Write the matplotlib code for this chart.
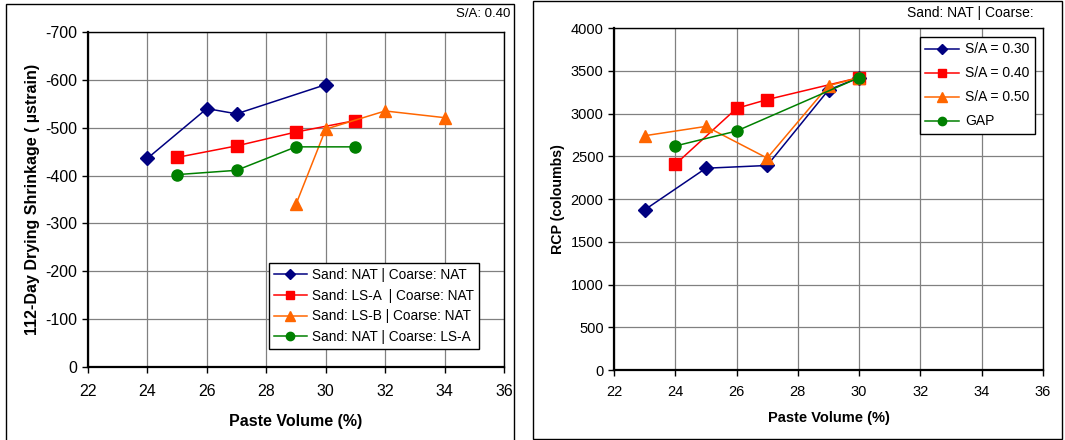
import matplotlib
matplotlib.use("Agg")
import matplotlib.pyplot as plt
from matplotlib.patches import Rectangle

plt.rcParams['font.family'] = ['Liberation Sans', 'DejaVu Sans']
plt.rcParams['axes.unicode_minus'] = False

# Left panel data: 112-day drying shrinkage
left_labels = ["Sand: NAT | Coarse: NAT", "Sand: LS-A  | Coarse: NAT",
               "Sand: LS-B | Coarse: NAT", "Sand: NAT | Coarse: LS-A"]
left_x = [[24, 26, 27, 30], [25, 27, 29, 31], [29, 30, 32, 34], [25, 27, 29, 31]]
left_y = [[-436, -540, -529, -590], [-438, -462, -491, -515],
          [-340, -497, -535, -521], [-402, -411, -460, -460]]

# Right panel data: RCP
right_labels = ["S/A = 0.30", "S/A = 0.40", "S/A = 0.50", "GAP"]
right_x = [[23, 25, 27, 29, 30], [24, 26, 27, 30], [23, 25, 27, 29, 30], [24, 26, 30]]
right_y = [[1873, 2360, 2392, 3275, 3420], [2405, 3060, 3163, 3420],
           [2740, 2849, 2478, 3325, 3420], [2620, 2795, 3420]]

x_ticks = [22, 24, 26, 28, 30, 32, 34, 36]
left_yticks = [0, -100, -200, -300, -400, -500, -600, -700]
right_yticks = [0, 500, 1000, 1500, 2000, 2500, 3000, 3500, 4000]

colors = ['#000080', '#FF0000', '#FF6600', '#008000']
markers = ['D', 's', '^', 'o']
msizes = [7, 8, 9, 8]

W, H = 1065, 440
fig = plt.figure(figsize=(W / 100, H / 100), dpi=100)

# Panel borders
fig.add_artist(Rectangle((5.5 / W, -0.01), 508 / W, 1 - 4 / H + 0.01,
                         transform=fig.transFigure, fill=False, ec='black', lw=1.0))
fig.add_artist(Rectangle((533 / W, 1.5 / H), 529 / W, 437 / H,
                         transform=fig.transFigure, fill=False, ec='black', lw=1.0))

def style_axes(ax, fs, pad, xlpad):
    ax.grid(True, color='#808080', lw=0.9)
    ax.set_axisbelow(True)
    for s in ['left', 'bottom']:
        ax.spines[s].set_linewidth(1.6)
    for s in ['top', 'right']:
        ax.spines[s].set_linewidth(1.0)
    ax.tick_params(direction='out', length=4, width=1, labelsize=fs, colors='black')
    ax.tick_params(axis='x', pad=pad)
    ax.set_xlim(22, 36)
    ax.set_xticks(x_ticks)
    ax.set_xlabel("Paste Volume (%)", fontsize=fs, fontweight='bold', labelpad=xlpad)

# Left axes
axL = fig.add_axes([88 / W, 1 - 367 / H, (504 - 88) / W, (367 - 32) / H])
for i in range(4):
    axL.plot(left_x[i], left_y[i], color=colors[i], marker=markers[i], ms=msizes[i],
             lw=1.1, label=left_labels[i])
axL.set_ylim(0, -700)
axL.set_yticks(left_yticks)
style_axes(axL, 11.5, 8, 11)
axL.set_ylabel("112-Day Drying Shrinkage ( µstrain)", fontsize=11.5, fontweight='bold', labelpad=4)
legL = axL.legend(loc='lower right', bbox_to_anchor=(0.94, 0.054), fontsize=9.8,
                  frameon=True, fancybox=False, edgecolor='black', framealpha=1,
                  handlelength=2.4, handletextpad=0.4, borderpad=0.35, labelspacing=0.5,
                  markerscale=0.75, borderaxespad=0)
legL.get_frame().set_linewidth(1.0)
fig.text(510 / W, 1 - 14 / H, "S/A: 0.40", ha='right', va='center', fontsize=9.5)

# Right axes
axR = fig.add_axes([614 / W, 1 - 370 / H, (1043 - 614) / W, (370 - 28) / H])
for i in range(4):
    axR.plot(right_x[i], right_y[i], color=colors[i], marker=markers[i], ms=msizes[i],
             lw=1.1, label=right_labels[i])
axR.set_ylim(0, 4000)
axR.set_yticks(right_yticks)
style_axes(axR, 10.5, 6.5, 9)
axR.set_ylabel("RCP (coloumbs)", fontsize=10.2, fontweight='bold', labelpad=4)
legR = axR.legend(loc='upper right', bbox_to_anchor=(0.981, 0.974), fontsize=10,
                  frameon=True, fancybox=False, edgecolor='black', framealpha=1,
                  handlelength=2.45, handletextpad=0.4, borderpad=0.4, labelspacing=0.72,
                  markerscale=0.75, borderaxespad=0)
legR.get_frame().set_linewidth(1.0)
fig.text(1034 / W, 1 - 13 / H, "Sand: NAT | Coarse:", ha='right', va='center', fontsize=10)

fig.savefig("out.png", dpi=100)
